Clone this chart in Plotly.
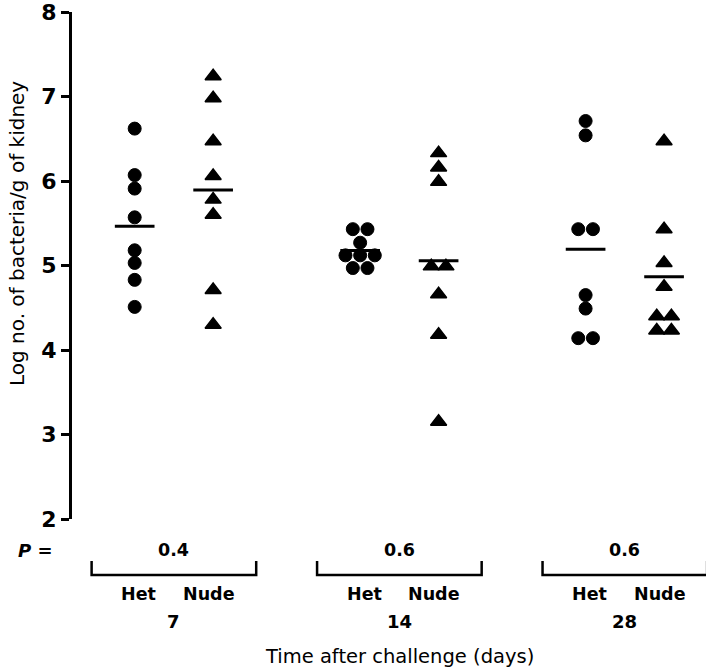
import numpy as np
import plotly.graph_objects as go

# ---- data ----
days = ["7", "14", "28"]
p_values = ["0.4", "0.6", "0.6"]
group_labels = ["Het", "Nude"]

het_d7 = [6.62, 6.07, 5.91, 5.57, 5.18, 5.03, 4.83, 4.51]
nude_d7 = [7.24, 6.98, 6.47, 6.06, 5.78, 5.60, 4.71, 4.30]
het_d14 = [5.43, 5.43, 5.27, 5.12, 5.12, 5.12, 4.97, 4.97]
nude_d14 = [6.33, 6.16, 5.99, 4.99, 4.99, 4.66, 4.18, 3.15]
het_d28 = [6.71, 6.54, 5.43, 5.43, 4.65, 4.49, 4.14, 4.14]
nude_d28 = [6.47, 5.43, 5.03, 4.75, 4.40, 4.40, 4.23, 4.23]

y_ticks = [2, 3, 4, 5, 6, 7, 8]

het = [het_d7, het_d14, het_d28]
nude = [nude_d7, nude_d14, nude_d28]

# ---- layout constants ----
W, H = 706, 669
ML, MR, MT, MB = 72, 0, 12, 150
XR = [-0.452, 2.36]
GROUP_OFF = 0.174
JIT = 0.065
MEAN_HALF = 0.088
FONT = "DejaVu Sans, Verdana, sans-serif"


def jitter(vals, center):
    xs = []
    seen = {}
    counts = {v: vals.count(v) for v in vals}
    for v in vals:
        i = seen.get(v, 0)
        seen[v] = i + 1
        n = counts[v]
        xs.append(center + (i - (n - 1) / 2) * JIT)
    return xs


def px(xd):
    return (xd - XR[0]) / (XR[1] - XR[0])


def py(pix):
    return (H - MB - pix) / (H - MB - MT)


def pxp(pix):
    return (pix - ML) / (W - ML - MR)


fig = go.Figure()

for g in range(3):
    for vals, off, sym, size, lw in [(het[g], -GROUP_OFF, "circle", 13, 1),
                                     (nude[g], GROUP_OFF, "triangle-up", 14, 1.5)]:
        c = g + off
        fig.add_trace(go.Scatter(
            x=jitter(vals, c), y=vals, mode="markers",
            marker=dict(symbol=sym, size=size, color="black",
                        line=dict(color="black", width=lw)),
            cliponaxis=False, showlegend=False, hoverinfo="y"))
        m = float(np.mean(vals))
        fig.add_trace(go.Scatter(
            x=[c - MEAN_HALF, c + MEAN_HALF], y=[m, m], mode="lines",
            line=dict(color="black", width=3), showlegend=False,
            hoverinfo="skip"))

shapes = []
annotations = []


def ann(x, y, text, size=18, xref="x", **kw):
    d = dict(x=x, y=y, xref=xref, yref="paper", text=text, showarrow=False,
             xanchor=kw.pop("xanchor", "center"), yanchor="middle",
             font=dict(size=size, color="black", family=FONT))
    d.update(kw)
    annotations.append(d)


for g in range(3):
    x0, x1 = px(g - 0.365), px(g + 0.365)
    yb, yt = py(575), py(561)
    shapes.append(dict(type="path", xref="paper", yref="paper",
                       path=f"M {x0},{yt} L {x0},{yb} L {x1},{yb} L {x1},{yt}",
                       line=dict(color="black", width=2.5)))
    ann(g, py(550), f"<b>{p_values[g]}</b>", size=17.5)
    ann(g - 0.155, py(594), f"<b>{group_labels[0]}</b>", size=17.5)
    ann(g + 0.155, py(594), f"<b>{group_labels[1]}</b>", size=17.5)
    ann(g, py(621), f"<b>{days[g]}</b>", size=18)

ann(0, py(550), "<b><i>P</i> =</b>", xref="paper", xanchor="right", xshift=-17,
    size=18)
ann(1, py(656), "Time after challenge (days)", size=19.5)
ann(pxp(17), py(234), "Log no. of bacteria/g of kidney", xref="paper",
    textangle=-90, size=20)

fig.update_layout(
    width=W, height=H,
    margin=dict(l=ML, r=MR, t=MT, b=MB),
    paper_bgcolor="white", plot_bgcolor="white",
    shapes=shapes, annotations=annotations,
    xaxis=dict(range=XR, visible=False, showgrid=False, zeroline=False),
    yaxis=dict(range=[2, 8], tickvals=y_ticks,
               ticktext=[f"<b>{t}</b>" for t in y_ticks],
               showline=True, linecolor="black", linewidth=3,
               ticks="outside", ticklen=8, tickwidth=2.5, tickcolor="black",
               showgrid=False, zeroline=False, ticklabeloverflow="allow",
               tickfont=dict(size=22, color="black", family=FONT)),
)

fig.write_html("out.html")
